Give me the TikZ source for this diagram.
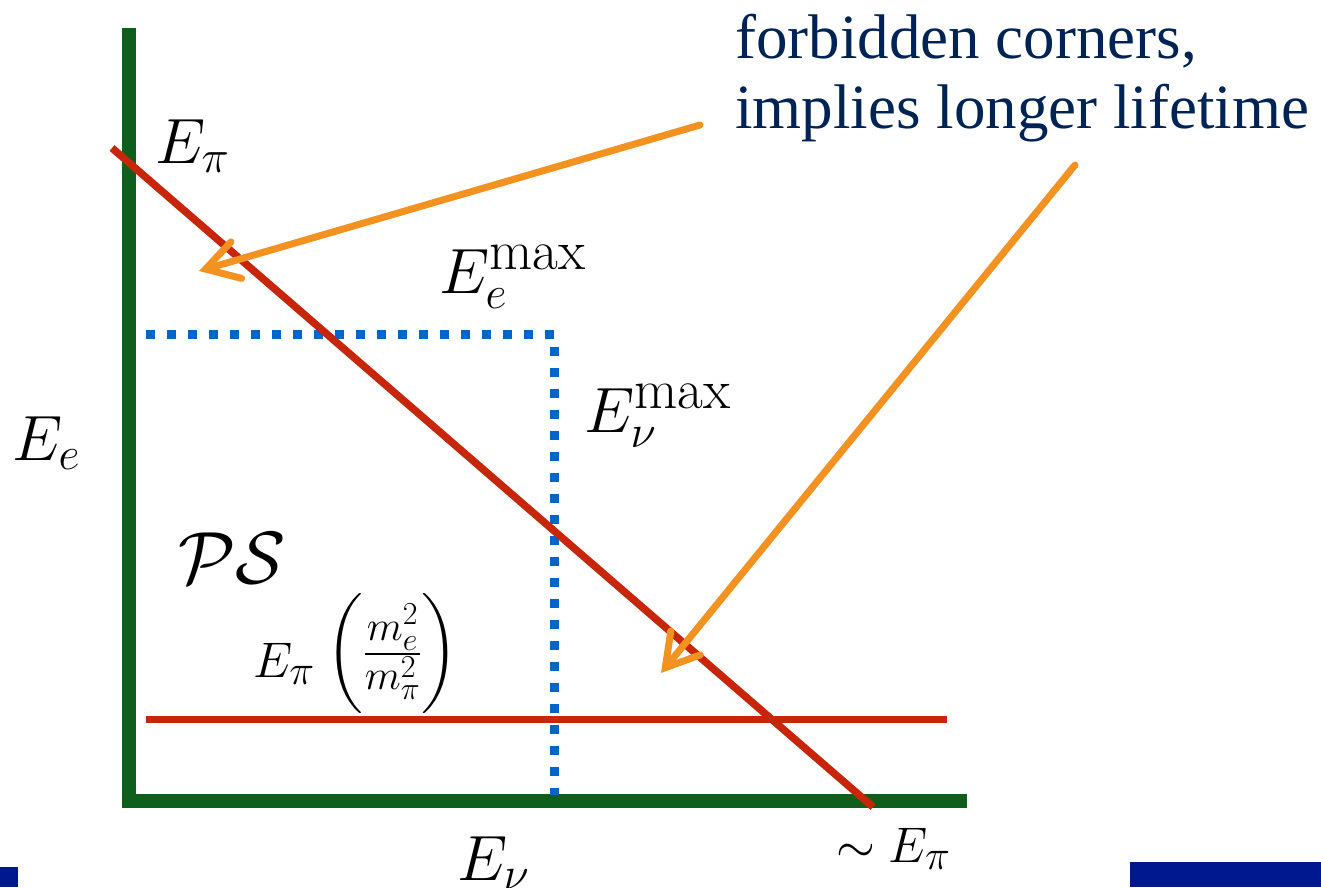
\RequirePackage{fix-cm}
\documentclass[tikz,border=0pt]{standalone}
\usepackage{fontspec}
\newfontfamily\timesfont{Liberation Serif}
\usetikzlibrary{arrows.meta}
\DeclareFontShape{OMX}{cmex}{m}{n}{<-> cmex10}{}
\DeclareMathSizes{64}{64}{46}{34}
\DeclareMathSizes{74}{74}{52}{37}
\DeclareMathSizes{50}{50}{42}{32}
\definecolor{axisgreen}{RGB}{14,94,28}
\definecolor{linered}{RGB}{200,38,10}
\definecolor{arroworange}{RGB}{243,146,32}
\definecolor{dotblue}{RGB}{0,102,204}
\definecolor{textnavy}{RGB}{0,35,85}
\definecolor{barnavy}{RGB}{0,24,143}
\tikzset{
  axisline/.style={draw=axisgreen,line width=14pt,line join=miter},
  redline/.style={draw=linered,line width=7.5pt},
  dotline/.style={draw=dotblue,line width=9pt,dash pattern=on 9pt off 12pt},
  pointer/.style={draw=arroworange,line width=7pt,line cap=round,
    -{Straight Barb[length=32pt,width=38pt,line cap=round]}},
  biglabel/.style={anchor=base west,inner sep=0pt,font=\fontsize{64}{70}\selectfont},
  hugelabel/.style={anchor=base west,inner sep=0pt,font=\fontsize{74}{80}\selectfont},
  midlabel/.style={anchor=base west,inner sep=0pt,font=\fontsize{50}{56}\selectfont},
  note/.style={anchor=base west,inner sep=0pt,text=textnavy,font=\timesfont\fontsize{63}{70}\selectfont},
}
\newcommand{\maxsup}{\mbox{\fontsize{56}{56}\selectfont max}}
\begin{document}
\begin{tikzpicture}[x=1pt,y=-1pt]
\useasboundingbox (0,0) rectangle (1321,887);
% corner bars
\fill[barnavy] (0,867) rectangle (18,887);
\fill[barnavy] (1130,862) rectangle (1321,887);
% axes
\coordinate (ytop) at (129,28);
\coordinate (origin) at (129,801);
\coordinate (xend) at (967,801);
\draw[axisline] (ytop) -- (origin) -- (xend);
% blue dotted limits
\coordinate (emaxl) at (146,334.5);
\coordinate (corner) at (554,334.5);
\coordinate (numaxb) at (554,795);
\draw[dotline] (emaxl) -- (corner) -- (numaxb);
% red lines
\coordinate (diagA) at (112,148);
\coordinate (diagB) at (873,807);
\draw[redline] (diagA) -- (diagB);
\coordinate (horA) at (146,719.5);
\coordinate (horB) at (947,719.5);
\draw[redline,line width=7pt] (horA) -- (horB);
% labels
\node[biglabel] (epi) at (155,163) {$E_\pi$};
\node[biglabel] (eemax) at (439,293) {$E_e^{\maxsup}$};
\node[biglabel] (enumax) at (584,432) {$E_\nu^{\maxsup}$};
\node[biglabel] (ee) at (12,460) {$E_e$};
\node[hugelabel] (ps) at (178,583) {$\mathcal{P}\mathcal{S}$};
\node[midlabel] (ratio) at (253,677) {$E_\pi\hspace{12pt}\raisebox{11pt}{$\left(\rule[-27.5pt]{0pt}{80pt}\frac{m_e^2}{m_\pi^2}\right)$}$};
\node[biglabel] (enu) at (457,880) {$E_\nu$};
\node[midlabel] (simepi) at (836,862) {$\sim E_\pi$};
% note
\node[note] (note1) at (735,58) {forbidden corners,};
\node[note] (note2) at (735,128) {implies longer lifetime};
% arrows
\coordinate (a1s) at (700,125);
\coordinate (a1e) at (199,271);
\coordinate (a2s) at (1075,165);
\coordinate (a2e) at (661,673);
\draw[pointer] (a1s) -- (a1e);
\draw[pointer] (a2s) -- (a2e);
\end{tikzpicture}
\end{document}
